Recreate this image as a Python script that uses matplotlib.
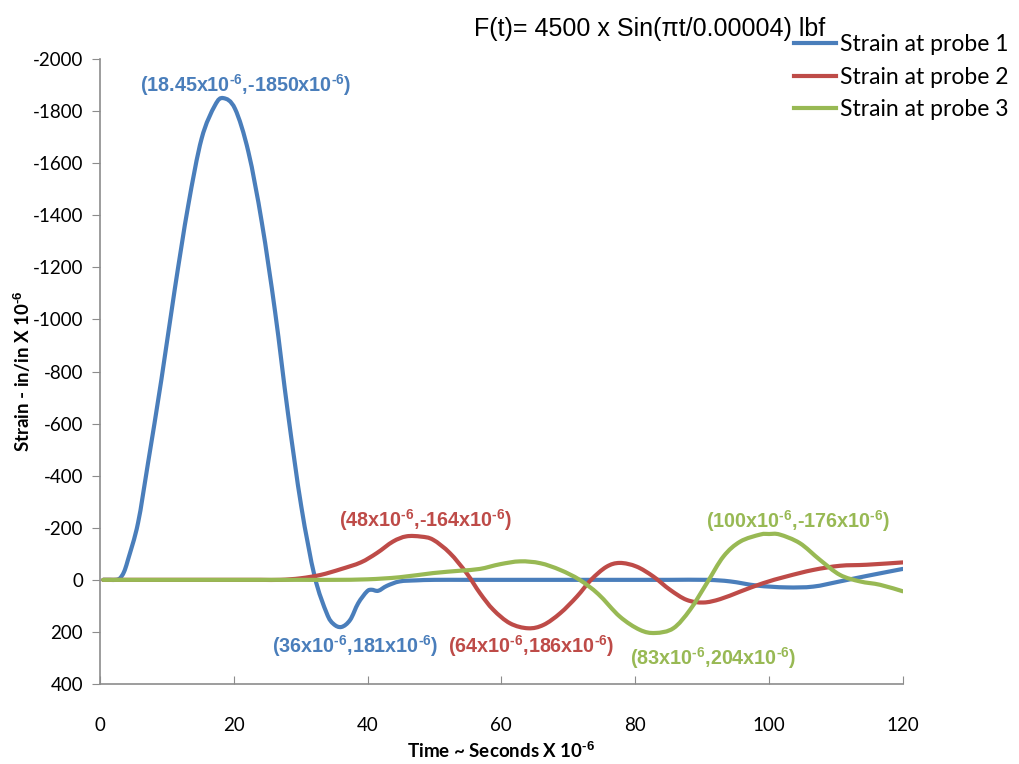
import matplotlib
matplotlib.use('Agg')
import matplotlib.pyplot as plt
from matplotlib.path import Path
from matplotlib.patches import PathPatch
from matplotlib.lines import Line2D

plt.rcParams['axes.unicode_minus'] = False
plt.rcParams['mathtext.fontset'] = 'custom'
plt.rcParams['mathtext.bf'] = 'Liberation Sans:bold'
plt.rcParams['mathtext.rm'] = 'Liberation Sans'

# ── data (time in 1e-6 s, strain in 1e-6 in/in) ─────────────────────────────
t_probe1 = [0.5, 1.5, 2.4, 3.0, 3.6, 4.2, 5.7, 7.2, 9.2, 11.2, 13.2, 15.2,
            17.2, 18.45, 20.2, 22.2, 24.2, 26.2, 28.1, 30.1, 32.1, 33.9, 34.9,
            36.1, 37.4, 38.6, 39.9, 40.6, 41.6, 42.9, 44.8, 47.3, 50, 55, 60,
            65, 70, 75, 80, 85, 90.7, 94.2, 98.2, 102.6, 106.6, 110.6, 114.6,
            120]
strain_probe1 = [0, 0, 0, -6, -30, -77, -218, -449, -770, -1117, -1437,
                 -1694, -1822, -1850, -1809, -1643, -1373, -1027, -642, -282,
                 -13, 128, 169, 181, 154, 90, 45, 38, 42, 23, 6, 2, 0, 0, 0, 0,
                 0, 0, 0, 0, 0, 6, 22, 29, 26, 6, -15, -42]

t_probe2 = [0.5, 5, 10, 15, 20, 24, 27, 30, 33, 36, 39, 41.4, 43.8, 45.8, 48,
            49.8, 52.3, 54.8, 56.8, 58.8, 61.3, 64, 66.3, 68.8, 71.3, 73.4,
            75.7, 77.7, 80.2, 82.7, 85.2, 87.7, 90.2, 92.7, 95.7, 99.1, 102.6,
            106.6, 110.6, 114.6, 120]
strain_probe2 = [0, 0, 0, 0, 0, 0, 0, -6, -19, -41, -67, -103, -147, -167,
                 -166, -154, -103, -26, 51, 115, 167, 186, 173, 128, 64, 0,
                 -50, -65, -51, -13, 38, 77, 87, 74, 45, 13, -13, -38, -54,
                 -58, -67]

t_probe3 = [0.5, 5, 10, 15, 20, 25, 30, 35, 40, 44.8, 49.8, 53.8, 56.8, 59.8,
            62.8, 65.8, 68.8, 71.7, 74.5, 77.7, 80.7, 83, 85.7, 88.2, 90.7,
            93.2, 95.7, 98.7, 100, 101.6, 104.6, 107.6, 110.6, 113.6, 116.6,
            120]
strain_probe3 = [0, 0, 0, 0, 0, 0, 0, 0, -2, -10, -26, -35, -42, -60, -71,
                 -64, -38, 0, 55, 141, 192, 204, 186, 115, 13, -90, -147, -174,
                 -176, -174, -141, -77, -19, 6, 19, 44]

series_names = ["Strain at probe 1", "Strain at probe 2", "Strain at probe 3"]
colors = ["#4A7EBB", "#BE4B48", "#98B954"]

SUP = "$^{\\mathbf{\u2010" + "6}}$"
# annotations: (text, x, y, series index)
peak_labels = [
    ("(18.45x10" + SUP + ",-1850x10" + SUP + ")", 21.8, -1900, 0),
    ("(36x10" + SUP + ",181x10" + SUP + ")", 38.1, 254, 0),
    ("(48x10" + SUP + ",-164x10" + SUP + ")", 48.7, -231, 1),
    ("(64x10" + SUP + ",186x10" + SUP + ")", 64.4, 254, 1),
    ("(83x10" + SUP + ",204x10" + SUP + ")", 91.6, 300, 2),
    ("(100x10" + SUP + ",-176x10" + SUP + ")", 104.3, -227, 2),
]


def smooth_path(xs, ys):
    """Excel-style smoothed line: Catmull-Rom segments as cubic Beziers."""
    pts = list(zip(xs, ys))
    n = len(pts)
    verts = [pts[0]]
    codes = [Path.MOVETO]
    for i in range(n - 1):
        p0 = pts[max(i - 1, 0)]
        p1 = pts[i]
        p2 = pts[i + 1]
        p3 = pts[min(i + 2, n - 1)]
        c1 = (p1[0] + (p2[0] - p0[0]) / 6, p1[1] + (p2[1] - p0[1]) / 6)
        c2 = (p2[0] - (p3[0] - p1[0]) / 6, p2[1] - (p3[1] - p1[1]) / 6)
        verts += [c1, c2, p2]
        codes += [Path.CURVE4] * 3
    return Path(verts, codes)


fig = plt.figure(figsize=(10.19, 7.64), dpi=100)
ax = fig.add_axes([0.098, 0.1047, 0.788, 0.818])

handles = []
for tt, ss, name, c in zip([t_probe1, t_probe2, t_probe3],
                           [strain_probe1, strain_probe2, strain_probe3],
                           series_names, colors):
    ax.add_patch(PathPatch(smooth_path(tt, ss), facecolor='none', edgecolor=c,
                           lw=3, capstyle='round', joinstyle='round'))
    handles.append(Line2D([], [], color=c, lw=3, label=name))

for txt, x, y, i in peak_labels:
    ax.text(x, y, txt, color=colors[i], fontsize=14.2, fontweight='bold',
            family='Liberation Sans', ha='center', va='center')

ax.set_xlim(0, 120)
ax.set_ylim(400, -2000)
ax.set_xticks(range(0, 121, 20))
ax.set_yticks(range(-2000, 401, 200))

for sp in ('top', 'right'):
    ax.spines[sp].set_visible(False)
for sp in ('left', 'bottom'):
    ax.spines[sp].set_color('#8c8c8c')
    ax.spines[sp].set_linewidth(1.2)
ax.tick_params(axis='y', direction='out', length=6, color='#8c8c8c',
               labelsize=13.5, pad=6)
ax.tick_params(axis='x', direction='in', length=6, color='#8c8c8c',
               labelsize=13.5, pad=24)
for lbl in ax.get_xticklabels() + ax.get_yticklabels():
    lbl.set_family('Lato')

ax.set_xlabel("Time ~ Seconds X 10" + SUP, fontsize=13.5,
              fontweight='bold', family='Lato', labelpad=4)
ax.set_ylabel("Strain - in/in X 10" + SUP, fontsize=13.5,
              fontweight='bold', family='Lato', labelpad=0)

fig.text(0.465, 0.962, "F(t)= 4500 x Sin(\u03c0t/0.00004) lbf", fontsize=18,
         family='Liberation Sans', ha='left', va='center')

fig.legend(handles=handles, loc='upper left', bbox_to_anchor=(0.779, 0.955),
           frameon=False, prop={'family': 'Lato', 'size': 16.5},
           handlelength=1.85, handletextpad=0.18, labelspacing=0.5,
           borderpad=0, borderaxespad=0)

plt.savefig("out.png", dpi=100)
plt.close()
